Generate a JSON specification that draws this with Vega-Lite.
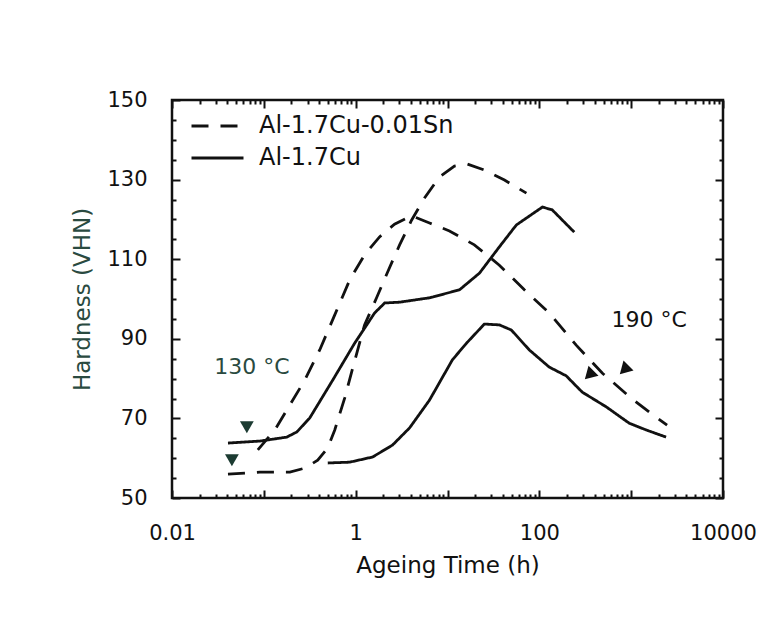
{
  "$schema": "https://vega.github.io/schema/vega-lite/v6.json",
  "width": 551,
  "height": 398,
  "autosize": {"type": "none"},
  "padding": {"left": 172, "top": 100, "right": 56, "bottom": 132},
  "background": "white",
  "config": {
    "view": {"stroke": "#111", "strokeWidth": 2.5},
    "font": "DejaVu Sans",
    "axis": {
      "grid": false, "domain": false, "tickColor": "#111", "tickWidth": 2,
      "labelFont": "DejaVu Sans", "labelFontSize": 21, "labelColor": "#111",
      "labelFlush": false, "labelOverlap": false, "labelBound": false,
      "titleFont": "DejaVu Sans", "titleFontSize": 23, "titleFontWeight": "normal", "titleColor": "#111"
    },
    "legend": {
      "orient": "none", "legendX": 18, "legendY": 10, "padding": 0, "titleFontSize": 0,
      "symbolType": "stroke", "symbolSize": 2704, "symbolStrokeWidth": 2.8, "symbolStrokeColor": "#111",
      "labelFont": "DejaVu Sans", "labelFontSize": 24, "labelColor": "#111", "labelOffset": 14,
      "labelLimit": 500, "rowPadding": 0, "clipHeight": 32
    }
  },
  "datasets": {
    "curves": [
      {"series": "Sn 1", "alloy": "Al-1.7Cu-0.01Sn", "t": 0.086, "hv": 62.1},
      {"series": "Sn 1", "alloy": "Al-1.7Cu-0.01Sn", "t": 0.132, "hv": 67.1},
      {"series": "Sn 1", "alloy": "Al-1.7Cu-0.01Sn", "t": 0.192, "hv": 73.4},
      {"series": "Sn 1", "alloy": "Al-1.7Cu-0.01Sn", "t": 0.279, "hv": 79.6},
      {"series": "Sn 1", "alloy": "Al-1.7Cu-0.01Sn", "t": 0.406, "hv": 87.2},
      {"series": "Sn 1", "alloy": "Al-1.7Cu-0.01Sn", "t": 0.592, "hv": 96.0},
      {"series": "Sn 1", "alloy": "Al-1.7Cu-0.01Sn", "t": 0.861, "hv": 104.8},
      {"series": "Sn 1", "alloy": "Al-1.7Cu-0.01Sn", "t": 1.25, "hv": 111.1},
      {"series": "Sn 1", "alloy": "Al-1.7Cu-0.01Sn", "t": 1.82, "hv": 115.6},
      {"series": "Sn 1", "alloy": "Al-1.7Cu-0.01Sn", "t": 2.65, "hv": 118.8},
      {"series": "Sn 1", "alloy": "Al-1.7Cu-0.01Sn", "t": 4.06, "hv": 120.9},
      {"series": "Sn 1", "alloy": "Al-1.7Cu-0.01Sn", "t": 6.37, "hv": 119.1},
      {"series": "Sn 1", "alloy": "Al-1.7Cu-0.01Sn", "t": 10.5, "hv": 117.1},
      {"series": "Sn 1", "alloy": "Al-1.7Cu-0.01Sn", "t": 19.6, "hv": 113.6},
      {"series": "Sn 1", "alloy": "Al-1.7Cu-0.01Sn", "t": 36.7, "hv": 108.5},
      {"series": "Sn 1", "alloy": "Al-1.7Cu-0.01Sn", "t": 68.7, "hv": 102.3},
      {"series": "Sn 1", "alloy": "Al-1.7Cu-0.01Sn", "t": 128, "hv": 96.5},
      {"series": "Sn 1", "alloy": "Al-1.7Cu-0.01Sn", "t": 252, "hv": 88.4},
      {"series": "Sn 1", "alloy": "Al-1.7Cu-0.01Sn", "t": 484, "hv": 81.4},
      {"series": "Sn 1", "alloy": "Al-1.7Cu-0.01Sn", "t": 1000, "hv": 75.1},
      {"series": "Sn 1", "alloy": "Al-1.7Cu-0.01Sn", "t": 1570, "hv": 71.6},
      {"series": "Sn 1", "alloy": "Al-1.7Cu-0.01Sn", "t": 2460, "hv": 68.3},

      {"series": "Sn 2", "alloy": "Al-1.7Cu-0.01Sn", "t": 0.0407, "hv": 56.0},
      {"series": "Sn 2", "alloy": "Al-1.7Cu-0.01Sn", "t": 0.0906, "hv": 56.5},
      {"series": "Sn 2", "alloy": "Al-1.7Cu-0.01Sn", "t": 0.192, "hv": 56.5},
      {"series": "Sn 2", "alloy": "Al-1.7Cu-0.01Sn", "t": 0.279, "hv": 57.5},
      {"series": "Sn 2", "alloy": "Al-1.7Cu-0.01Sn", "t": 0.386, "hv": 59.5},
      {"series": "Sn 2", "alloy": "Al-1.7Cu-0.01Sn", "t": 0.497, "hv": 62.6},
      {"series": "Sn 2", "alloy": "Al-1.7Cu-0.01Sn", "t": 0.592, "hv": 67.1},
      {"series": "Sn 2", "alloy": "Al-1.7Cu-0.01Sn", "t": 0.759, "hv": 75.1},
      {"series": "Sn 2", "alloy": "Al-1.7Cu-0.01Sn", "t": 0.905, "hv": 81.7},
      {"series": "Sn 2", "alloy": "Al-1.7Cu-0.01Sn", "t": 1.25, "hv": 93.5},
      {"series": "Sn 2", "alloy": "Al-1.7Cu-0.01Sn", "t": 1.69, "hv": 100.3},
      {"series": "Sn 2", "alloy": "Al-1.7Cu-0.01Sn", "t": 2.23, "hv": 106.8},
      {"series": "Sn 2", "alloy": "Al-1.7Cu-0.01Sn", "t": 3.01, "hv": 113.6},
      {"series": "Sn 2", "alloy": "Al-1.7Cu-0.01Sn", "t": 4.06, "hv": 119.8},
      {"series": "Sn 2", "alloy": "Al-1.7Cu-0.01Sn", "t": 5.62, "hv": 125.4},
      {"series": "Sn 2", "alloy": "Al-1.7Cu-0.01Sn", "t": 8.18, "hv": 130.7},
      {"series": "Sn 2", "alloy": "Al-1.7Cu-0.01Sn", "t": 11.9, "hv": 133.4},
      {"series": "Sn 2", "alloy": "Al-1.7Cu-0.01Sn", "t": 16.5, "hv": 133.9},
      {"series": "Sn 2", "alloy": "Al-1.7Cu-0.01Sn", "t": 25.2, "hv": 132.4},
      {"series": "Sn 2", "alloy": "Al-1.7Cu-0.01Sn", "t": 41.7, "hv": 129.9},
      {"series": "Sn 2", "alloy": "Al-1.7Cu-0.01Sn", "t": 72.3, "hv": 126.6},

      {"series": "Cu 1", "alloy": "Al-1.7Cu", "t": 0.0407, "hv": 63.8},
      {"series": "Cu 1", "alloy": "Al-1.7Cu", "t": 0.0906, "hv": 64.3},
      {"series": "Cu 1", "alloy": "Al-1.7Cu", "t": 0.178, "hv": 65.3},
      {"series": "Cu 1", "alloy": "Al-1.7Cu", "t": 0.229, "hv": 66.6},
      {"series": "Cu 1", "alloy": "Al-1.7Cu", "t": 0.316, "hv": 70.1},
      {"series": "Cu 1", "alloy": "Al-1.7Cu", "t": 0.562, "hv": 79.6},
      {"series": "Cu 1", "alloy": "Al-1.7Cu", "t": 0.975, "hv": 88.9},
      {"series": "Cu 1", "alloy": "Al-1.7Cu", "t": 1.61, "hv": 96.5},
      {"series": "Cu 1", "alloy": "Al-1.7Cu", "t": 2.07, "hv": 99.0},
      {"series": "Cu 1", "alloy": "Al-1.7Cu", "t": 3.01, "hv": 99.2},
      {"series": "Cu 1", "alloy": "Al-1.7Cu", "t": 6.37, "hv": 100.3},
      {"series": "Cu 1", "alloy": "Al-1.7Cu", "t": 13.5, "hv": 102.3},
      {"series": "Cu 1", "alloy": "Al-1.7Cu", "t": 22.3, "hv": 106.5},
      {"series": "Cu 1", "alloy": "Al-1.7Cu", "t": 36.7, "hv": 113.1},
      {"series": "Cu 1", "alloy": "Al-1.7Cu", "t": 56.2, "hv": 118.6},
      {"series": "Cu 1", "alloy": "Al-1.7Cu", "t": 108, "hv": 123.1},
      {"series": "Cu 1", "alloy": "Al-1.7Cu", "t": 138, "hv": 122.4},
      {"series": "Cu 1", "alloy": "Al-1.7Cu", "t": 240, "hv": 116.8},

      {"series": "Cu 2", "alloy": "Al-1.7Cu", "t": 0.497, "hv": 58.8},
      {"series": "Cu 2", "alloy": "Al-1.7Cu", "t": 0.861, "hv": 59.0},
      {"series": "Cu 2", "alloy": "Al-1.7Cu", "t": 1.53, "hv": 60.3},
      {"series": "Cu 2", "alloy": "Al-1.7Cu", "t": 2.52, "hv": 63.3},
      {"series": "Cu 2", "alloy": "Al-1.7Cu", "t": 3.86, "hv": 67.6},
      {"series": "Cu 2", "alloy": "Al-1.7Cu", "t": 6.37, "hv": 74.6},
      {"series": "Cu 2", "alloy": "Al-1.7Cu", "t": 11.3, "hv": 84.7},
      {"series": "Cu 2", "alloy": "Al-1.7Cu", "t": 16.1, "hv": 88.9},
      {"series": "Cu 2", "alloy": "Al-1.7Cu", "t": 25.2, "hv": 93.7},
      {"series": "Cu 2", "alloy": "Al-1.7Cu", "t": 36.7, "hv": 93.5},
      {"series": "Cu 2", "alloy": "Al-1.7Cu", "t": 49.6, "hv": 92.2},
      {"series": "Cu 2", "alloy": "Al-1.7Cu", "t": 77.8, "hv": 87.2},
      {"series": "Cu 2", "alloy": "Al-1.7Cu", "t": 128, "hv": 82.9},
      {"series": "Cu 2", "alloy": "Al-1.7Cu", "t": 196, "hv": 80.7},
      {"series": "Cu 2", "alloy": "Al-1.7Cu", "t": 293, "hv": 76.6},
      {"series": "Cu 2", "alloy": "Al-1.7Cu", "t": 535, "hv": 72.9},
      {"series": "Cu 2", "alloy": "Al-1.7Cu", "t": 951, "hv": 68.8},
      {"series": "Cu 2", "alloy": "Al-1.7Cu", "t": 1455, "hv": 67.1},
      {"series": "Cu 2", "alloy": "Al-1.7Cu", "t": 2400, "hv": 65.3}
    ],
    "startMarkers": [
      {"t": 0.0653, "hv": 67.8},
      {"t": 0.0449, "hv": 59.5}
    ],
    "endMarkers": [
      {"t": 349, "hv": 80.9},
      {"t": 839, "hv": 82.2}
    ],
    "labels": [
      {"t": 0.074, "hv": 82.9, "text": "130 °C"},
      {"t": 1570, "hv": 94.7, "text": "190 °C"}
    ]
  },
  "layer": [
    {
      "data": {"name": "curves"},
      "mark": {"type": "line", "stroke": "#111", "strokeWidth": 2.8, "strokeCap": "butt"},
      "encoding": {
        "x": {
          "field": "t", "type": "quantitative",
          "scale": {"type": "log", "domain": [0.01, 10000]},
          "axis": {
            "orient": "bottom", "values": [0.01, 0.1, 1, 10, 100, 1000, 10000],
            "labelExpr": "round(log(datum.value)/LN10) % 2 == 0 ? format(datum.value, '~g') : ''",
            "tickSize": -8, "labelPadding": 32, "title": "Ageing Time (h)", "titlePadding": 11
          }
        },
        "y": {
          "field": "hv", "type": "quantitative",
          "scale": {"domain": [50, 150], "nice": false, "zero": false},
          "axis": {
            "orient": "left", "values": [50, 70, 90, 110, 130, 150],
            "tickSize": -8, "labelPadding": 33, "title": "Hardness (VHN)", "titlePadding": 12,
            "titleColor": "#2a4a40"
          }
        },
        "detail": {"field": "series"},
        "strokeDash": {
          "field": "alloy", "type": "nominal",
          "scale": {"domain": ["Al-1.7Cu-0.01Sn", "Al-1.7Cu"], "range": [[17, 12], [1, 0]]},
          "legend": {"title": null}
        }
      }
    },
    {
      "data": {"name": "startMarkers"},
      "mark": {"type": "point", "shape": "triangle-down", "filled": true, "size": 190, "color": "#1c3b32", "opacity": 1},
      "encoding": {
        "x": {"field": "t", "type": "quantitative", "scale": {"type": "log", "domain": [0.01, 10000]},
          "axis": {"orient": "top", "values": [0.01, 0.1, 1, 10, 100, 1000, 10000], "labels": false, "tickSize": -8, "title": null}},
        "y": {"field": "hv", "type": "quantitative", "scale": {"domain": [50, 150], "nice": false, "zero": false},
          "axis": {"orient": "right", "values": [50, 70, 90, 110, 130, 150], "labels": false, "tickSize": -8, "title": null}}
      }
    },
    {
      "data": {"name": "endMarkers"},
      "mark": {"type": "point", "shape": "triangle-down", "filled": true, "size": 200, "angle": 45, "color": "#111", "opacity": 1},
      "encoding": {
        "x": {"field": "t", "type": "quantitative", "scale": {"type": "log", "domain": [0.01, 10000]},
          "axis": {"orient": "bottom", "values": [0.02,0.03,0.04,0.05,0.06,0.07,0.08,0.09,0.2,0.3,0.4,0.5,0.6,0.7,0.8,0.9,2,3,4,5,6,7,8,9,20,30,40,50,60,70,80,90,200,300,400,500,600,700,800,900,2000,3000,4000,5000,6000,7000,8000,9000], "labels": false, "tickSize": -4, "title": null}},
        "y": {"field": "hv", "type": "quantitative", "scale": {"domain": [50, 150], "nice": false, "zero": false},
          "axis": {"orient": "left", "values": [55,60,65,75,80,85,95,100,105,115,120,125,135,140,145], "labels": false, "tickSize": -4, "title": null}}
      }
    },
    {
      "data": {"name": "labels"},
      "mark": {"type": "text", "font": "DejaVu Sans", "fontSize": 22, "align": "center", "baseline": "middle"},
      "encoding": {
        "x": {"field": "t", "type": "quantitative", "scale": {"type": "log", "domain": [0.01, 10000]},
          "axis": {"orient": "top", "values": [0.02,0.03,0.04,0.05,0.06,0.07,0.08,0.09,0.2,0.3,0.4,0.5,0.6,0.7,0.8,0.9,2,3,4,5,6,7,8,9,20,30,40,50,60,70,80,90,200,300,400,500,600,700,800,900,2000,3000,4000,5000,6000,7000,8000,9000], "labels": false, "tickSize": -4, "title": null}},
        "y": {"field": "hv", "type": "quantitative", "scale": {"domain": [50, 150], "nice": false, "zero": false},
          "axis": {"orient": "right", "values": [55,60,65,75,80,85,95,100,105,115,120,125,135,140,145], "labels": false, "tickSize": -4, "title": null}},
        "text": {"field": "text"},
        "color": {"field": "text", "type": "nominal", "scale": {"domain": ["130 °C", "190 °C"], "range": ["#2a4a40", "#111111"]}, "legend": null}
      }
    }
  ],
  "resolve": {"axis": {"x": "independent", "y": "independent"}}
}
